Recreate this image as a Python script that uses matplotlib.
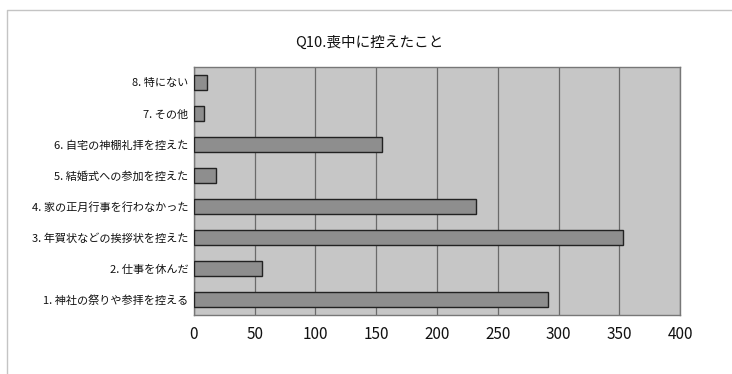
import matplotlib
matplotlib.use("Agg")
import matplotlib.pyplot as plt
from matplotlib.lines import Line2D

plt.rcParams['font.family'] = ['Noto Sans CJK JP', 'DejaVu Sans']

# answers, bottom to top
labels = [
    "1. 神社の祭りや参拝を控える",
    "2. 仕事を休んだ",
    "3. 年賀状などの挨拶状を控えた",
    "4. 家の正月行事を行わなかった",
    "5. 結婚式への参加を控えた",
    "6. 自宅の神棚礼拝を控えた",
    "7. その他",
    "8. 特にない",
]
counts = [291, 56, 353, 232, 18, 155, 8, 11]
xticks = [0, 50, 100, 150, 200, 250, 300, 350, 400]
title = "Q10.喪中に控えたこと"

fig = plt.figure(figsize=(7.32, 3.74), dpi=100)
fig.patch.set_facecolor("white")
# top and left edge of the chart frame
fig.lines.append(Line2D([0.010, 0.010, 1.0], [0.0, 0.972, 0.972], transform=fig.transFigure,
                        color="#c4c4c4", linewidth=1.0))

ax = fig.add_axes([0.265, 0.158, 0.664, 0.663])
ax.set_facecolor("#c6c6c6")
ax.barh(range(len(counts)), counts, height=0.5, color="#8e8e8e",
        edgecolor="#222222", linewidth=1.0, zorder=3)

ax.set_xlim(0, 400)
ax.set_ylim(-0.5, len(counts) - 0.5)
ax.set_xticks(xticks)
ax.set_xticklabels([str(t) for t in xticks], fontsize=11, color="#111111")
ax.set_yticks(range(len(labels)))
ax.set_yticklabels(labels, fontsize=8, color="#111111")
ax.tick_params(axis="both", length=0, pad=8)
ax.tick_params(axis="y", pad=4)
ax.grid(axis="x", color="#6a6a6a", linewidth=0.9, zorder=1)
for s in ax.spines.values():
    s.set_color("#777777")
    s.set_linewidth(1.0)

fig.text(0.505, 0.885, title, ha="center", va="center", fontsize=10.5, color="#111111")

fig.savefig("out.png", dpi=100)
